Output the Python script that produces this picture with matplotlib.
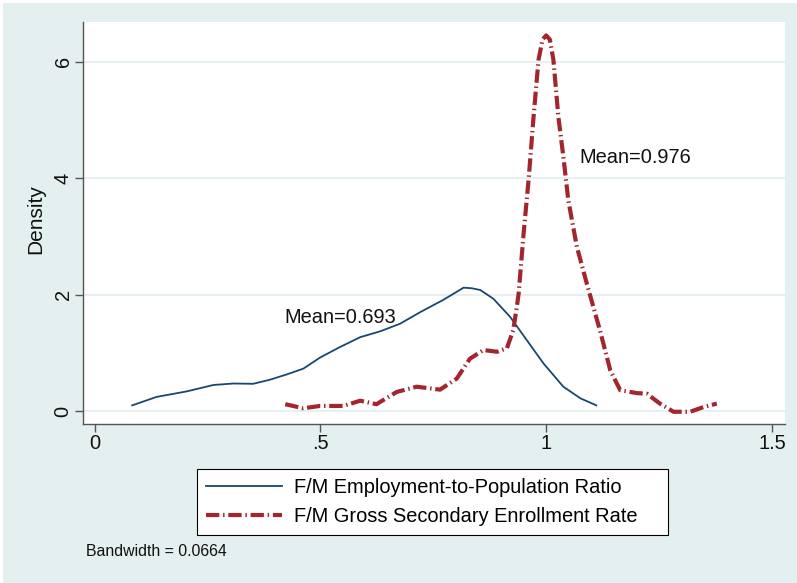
import matplotlib
matplotlib.use("Agg")
import matplotlib.pyplot as plt
from matplotlib.patches import Rectangle

plt.rcParams['font.family'] = ['Liberation Sans', 'DejaVu Sans']

# F/M Employment-to-Population Ratio (kernel density)
emp_x = [0.083, 0.137, 0.204, 0.263, 0.307, 0.351, 0.388, 0.425, 0.462, 0.499,
         0.543, 0.588, 0.632, 0.676, 0.721, 0.772, 0.817, 0.835, 0.854, 0.883,
         0.920, 0.957, 0.994, 1.038, 1.076, 1.111]
emp_y = [0.10, 0.245, 0.34, 0.45, 0.475, 0.47, 0.54, 0.63, 0.73, 0.92,
         1.10, 1.27, 1.37, 1.50, 1.70, 1.91, 2.12, 2.11, 2.08, 1.93,
         1.62, 1.22, 0.82, 0.42, 0.22, 0.10]

# F/M Gross Secondary Enrollment Rate
enr_x = [0.422, 0.462, 0.499, 0.551, 0.588, 0.624, 0.669, 0.713, 0.765, 0.802,
         0.831, 0.861, 0.891, 0.913, 0.927, 0.935, 0.939, 0.950, 0.961, 0.972,
         0.983, 0.992, 1.000, 1.008, 1.016, 1.027, 1.038, 1.049, 1.068, 1.090,
         1.119, 1.142, 1.164, 1.201, 1.223, 1.252, 1.282, 1.319, 1.348, 1.378]
enr_y = [0.12, 0.05, 0.09, 0.09, 0.18, 0.12, 0.33, 0.42, 0.37, 0.56,
         0.90, 1.05, 1.02, 1.08, 1.39, 1.79, 2.02, 3.05, 3.97, 5.05,
         6.03, 6.38, 6.45, 6.38, 6.03, 5.05, 4.37, 3.62, 2.82, 2.19,
         1.39, 0.70, 0.36, 0.31, 0.30, 0.13, -0.01, -0.01, 0.07, 0.13]

series_labels = ["F/M Employment-to-Population Ratio",
                 "F/M Gross Secondary Enrollment Rate"]
x_ticks = [0, 0.5, 1, 1.5]
x_ticklabels = ["0", ".5", "1", "1.5"]
y_ticks = [0, 2, 4, 6]
y_ticklabels = ["0", "2", "4", "6"]
annotations = [("Mean=0.693", 0.42, 1.61), ("Mean=0.976", 1.073, 4.36)]
note = "Bandwidth = 0.0664"

BG = "#e4eff0"
NAVY = "#1a476f"
MAROON = "#a3262e"
FS = 14.4

fig = plt.figure(figsize=(7.97, 5.83), dpi=100, facecolor="white")
fig.patches.append(Rectangle((3 / 797, 0), 1 - 3 / 797, 1 - 3 / 583,
                             transform=fig.transFigure, facecolor=BG,
                             edgecolor="none", zorder=-10))

ax = fig.add_axes([83 / 797, 1 - 424 / 583, (785 - 83) / 797, (424 - 22) / 583])
ax.set_facecolor("white")

for yt in y_ticks:
    ax.axhline(yt, color="#e2eef0", lw=1.2, zorder=0)

l1, = ax.plot(emp_x, emp_y, color=NAVY, lw=1.3, label=series_labels[0],
              solid_joinstyle="round")
l2, = ax.plot(enr_x, enr_y, color=MAROON, lw=3.0,
              linestyle=(0, (3.2, 0.9, 0.35, 0.9)), label=series_labels[1],
              dash_capstyle="butt")

ax.set_xlim(-0.026, 1.529)
ax.set_ylim(-0.22, 6.68)

ax.set_xticks(x_ticks)
ax.set_xticklabels(x_ticklabels)
ax.set_yticks(y_ticks)
ax.set_yticklabels(y_ticklabels, rotation=90, va="center")

ax.tick_params(axis="both", labelsize=FS, color="#555555", width=1.0,
               length=6, pad=1.5, labelcolor="#111111")

for s in ["top", "right"]:
    ax.spines[s].set_visible(False)
for s in ["left", "bottom"]:
    ax.spines[s].set_color("#555555")
    ax.spines[s].set_linewidth(1.0)

ax.set_ylabel("Density", fontsize=15, color="#111111")
ax.yaxis.set_label_coords(-0.054, 0.51)

for txt, xx, yy in annotations:
    ax.text(xx, yy, txt, fontsize=FS, va="center", ha="left", color="#111111")

leg = fig.legend(handles=[l1, l2], labels=series_labels, loc="upper left",
                 bbox_to_anchor=(197.3 / 797, 1 - 535.7 / 583, 470.7 / 797, 66.7 / 583),
                 mode="expand", fontsize=FS,
                 frameon=True, fancybox=False, edgecolor="black",
                 facecolor="white", framealpha=1, handlelength=3.8,
                 borderpad=0.45, labelspacing=0.5, handletextpad=0.6,
                 borderaxespad=0)
leg.get_frame().set_linewidth(0.8)

fig.text(86 / 797, 1 - 551 / 583, note, fontsize=11.4, va="center", ha="left",
         color="#111111")

fig.savefig("out.png", dpi=100, facecolor=fig.get_facecolor())
